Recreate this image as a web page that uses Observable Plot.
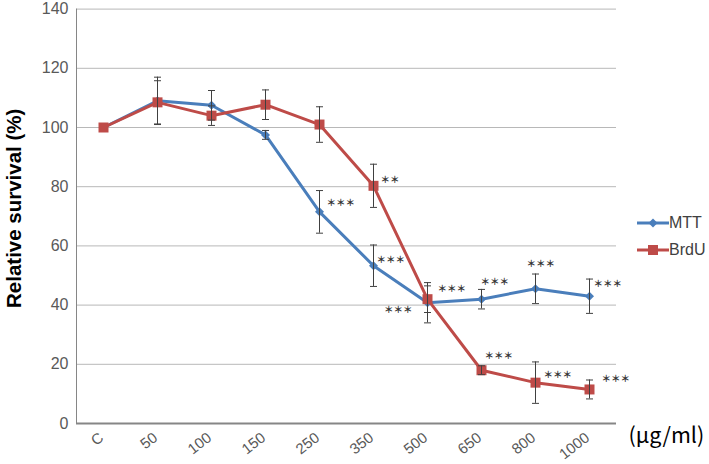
<!DOCTYPE html>
<html><head><meta charset="utf-8">
<script src="https://cdn.jsdelivr.net/npm/d3@7"></script>
<script src="https://cdn.jsdelivr.net/npm/@observablehq/plot@0.6"></script>
<style>
body{margin:0;background:#fff;}
#wrap{position:relative;width:709px;height:464px;}
#legend{position:absolute;left:637px;top:209px;font-family:"Liberation Sans",Arial,sans-serif;font-size:16px;color:#404040;}
.row{display:flex;align-items:center;height:27px;}
</style></head><body><div id="wrap"></div>
<script>
// ---- data ----
const categories = ["C","50","100","150","250","350","500","650","800","1000"];
const mtt      = [100, 109, 107.5, 97.5, 71.5, 53.3, 40.8, 42, 45.5, 43];
const mttErr   = [0,   8,   5,     1.5,  7.2,  7,    6.8,  3.3, 5,   5.8];
const brdu     = [100, 108.5, 104, 107.7, 101, 80.3, 42,   18, 13.8, 11.5];
const brduErr  = [0,   7.3,  3.3,  5,     6,   7.3,  4.5,  1.5, 7,   3.2];
const mttSig   = ["","","","","***","***","***","***","***","***"];
const brduSig  = ["","","","","","**","***","***","***","***"];
const yTicks   = [0,20,40,60,80,100,120,140];
const seriesNames = ["MTT","BrdU"];
const unitLabel = "(μg/ml)";
const yTitle = "Relative survival (%)";

// ---- layout (label offsets in px, not data) ----
const mttStarOffsets  = {"250":[7,-9,"start"],"350":[3,-6,"start"],"500":[-15,7,"end"],"650":[-1,-17,"start"],"800":[-9,-25,"start"],"1000":[4,-12,"start"]};
const brduStarOffsets = {"350":[7,-6,"start"],"500":[10,-10,"start"],"650":[3,-14,"start"],"800":[8,-8,"start"],"1000":[12,-11,"start"]};

const blue = "#4A7EBB", red = "#BE4B48", barColor = "#404040";

const rows = (vals, errs, name) => categories.map((c,i)=>({cat:c, v:vals[i], e:errs[i], lo:vals[i]-errs[i], hi:vals[i]+errs[i], s:name}));
const mttRows = rows(mtt, mttErr, "MTT");
const brduRows = rows(brdu, brduErr, "BrdU");
const errRows = [...mttRows, ...brduRows].filter(d => d.e > 0);

const capSymbol = {draw(ctx, size){ const r = Math.sqrt(size/Math.PI); ctx.moveTo(-r,0); ctx.lineTo(r,0); }};

function starMarks(rowsArr, sig, offsets){
  return rowsArr.map((d,i)=>({d, t: sig[i]})).filter(o=>o.t).map(o=>{
    const [dx,dy,anchor] = offsets[o.d.cat];
    return Plot.text([o.d], {x:"cat", y:"v", text: () => o.t.replace(/\*/g,"＊"), dx, dy, textAnchor: anchor,
      fontFamily:"Noto Sans CJK JP", fontSize: 9.5, fontWeight: "bold", fill:"#333"});
  });
}

const chart = Plot.plot({
  width: 709, height: 464,
  marginLeft: 76, marginRight: 93, marginTop: 8.6, marginBottom: 41,
  style: {fontFamily: "'Liberation Sans', Arial, sans-serif", background: "#fff"},
  x: {type: "point", domain: categories, padding: 0.5, axis: null},
  y: {domain: [0, 140]},
  marks: [
    Plot.ruleY(yTicks.filter(t=>t>0), {stroke: "#b8b8b8", strokeWidth: 1}),
    Plot.frame({anchor: "left", stroke: "#868686", strokeWidth: 1}),
    Plot.ruleY([0], {stroke: "#868686", strokeWidth: 2}),
    Plot.axisY(yTicks, {tickSize: 0, tickPadding: 8, fontSize: 16, fill: "#595959", label: null}),
    Plot.text(categories, {x: d => d, frameAnchor: "bottom", rotate: -38, textAnchor: "end", dx: 1, dy: 16, fontSize: 15, fill: "#595959"}),
    Plot.text([yTitle], {frameAnchor: "left", textAnchor: "middle", dx: -62, dy: -8, rotate: -90, fontSize: 20.5, fontWeight: "bold", fill: "#000"}),
    Plot.text([unitLabel], {frameAnchor: "bottom-right", dx: 12, dy: 19, textAnchor: "start", fontFamily: "Noto Sans CJK JP", fontSize: 21.5, fill: "#000"}),
    Plot.line(mttRows, {x: "cat", y: "v", stroke: blue, strokeWidth: 3}),
    Plot.dot(mttRows, {x: "cat", y: "v", symbol: "diamond2", r: 4.05, fill: blue}),
    Plot.line(brduRows, {x: "cat", y: "v", stroke: red, strokeWidth: 3}),
    Plot.dot(brduRows, {x: "cat", y: "v", symbol: "square", r: 5.64, fill: red}),
    Plot.ruleX(errRows, {x: "cat", y1: "lo", y2: "hi", stroke: barColor, strokeWidth: 1}),
    Plot.dot(errRows, {x: "cat", y: "hi", symbol: capSymbol, r: 3.5, stroke: barColor, strokeWidth: 1, fill: "none"}),
    Plot.dot(errRows, {x: "cat", y: "lo", symbol: capSymbol, r: 3.5, stroke: barColor, strokeWidth: 1, fill: "none"}),
    ...starMarks(mttRows, mttSig, mttStarOffsets),
    ...starMarks(brduRows, brduSig, brduStarOffsets)
  ]
});
const wrap = document.getElementById("wrap");
wrap.appendChild(chart);

// legend
const legend = document.createElement("div");
legend.id = "legend";
const sw = {MTT: `<svg width="32" height="12"><line x1="0" y1="6" x2="32" y2="6" stroke="${blue}" stroke-width="3"/><path d="M16,1.5L20.5,6L16,10.5L11.5,6Z" fill="${blue}"/></svg>`,
            BrdU: `<svg width="32" height="12"><line x1="0" y1="6" x2="32" y2="6" stroke="${red}" stroke-width="3"/><rect x="11" y="1" width="10" height="10" fill="${red}"/></svg>`};
legend.innerHTML = seriesNames.map(n => `<div class="row">${sw[n]}<span>${n}</span></div>`).join("");
wrap.appendChild(legend);
</script></body></html>
